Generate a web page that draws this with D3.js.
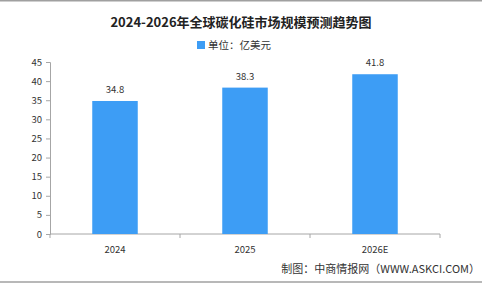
<!DOCTYPE html>
<html>
<head>
<meta charset="utf-8">
<script src="https://cdn.jsdelivr.net/npm/d3@7"></script>
<style>
  body { margin: 0; background: #fff; }
  svg { display: block; }
  text { font-family: "Noto Sans CJK SC", "DejaVu Sans", sans-serif; }
</style>
</head>
<body>
<div id="chart"></div>
<script>
const years = ["2024", "2025", "2026E"];
const values = [34.8, 38.3, 41.8];
const yTicks = [0, 5, 10, 15, 20, 25, 30, 35, 40, 45];

const width = 482, height = 284;
const margin = { top: 62, bottom: 50, left: 50, right: 42 };

const svg = d3.select("#chart").append("svg")
  .attr("width", width)
  .attr("height", height);

// frame lines top and bottom
svg.append("line").attr("x1", 0).attr("x2", width).attr("y1", 0.5).attr("y2", 0.5)
  .attr("stroke", "#a0a0a0").attr("stroke-width", 2);
svg.append("line").attr("x1", 0).attr("x2", width).attr("y1", 282).attr("y2", 282)
  .attr("stroke", "#a0a0a0").attr("stroke-width", 1.5);

const xScale = d3.scaleBand()
  .domain(years)
  .range([margin.left, width - margin.right])
  .paddingInner(0.65)
  .paddingOuter(0.325);

const yScale = d3.scaleLinear()
  .domain([0, 45])
  .range([height - margin.bottom, margin.top]);

// title
svg.append("text")
  .attr("x", 241).attr("y", 27)
  .attr("text-anchor", "middle")
  .attr("font-size", 13)
  .attr("font-weight", "bold")
  .attr("fill", "#222")
  .text("2024-2026年全球碳化硅市场规模预测趋势图");

// legend
svg.append("rect").attr("x", 197).attr("y", 41).attr("width", 8).attr("height", 8).attr("fill", "#3d9df5");
svg.append("text")
  .attr("x", 208).attr("y", 49)
  .attr("font-size", 10.5)
  .attr("fill", "#333")
  .text("单位：亿美元");

// y axis
const yAxis = d3.axisLeft(yScale).tickValues(yTicks).tickSize(4).tickPadding(4);
const gy = svg.append("g")
  .attr("class", "axis y-axis")
  .attr("transform", `translate(${margin.left},0)`)
  .call(yAxis);
gy.select(".domain").attr("stroke", "#a6a6a6");
gy.selectAll(".tick line").attr("stroke", "#a6a6a6");
gy.selectAll(".tick text").attr("font-size", 9.5).attr("fill", "#333")
  .attr("font-family", "DejaVu Sans, sans-serif");

// x axis with ticks at band boundaries
const gx = svg.append("g")
  .attr("class", "axis x-axis")
  .attr("transform", `translate(0,${yScale(0)})`);
gx.append("line")
  .attr("x1", margin.left).attr("x2", width - margin.right)
  .attr("stroke", "#a6a6a6");
const bounds = d3.range(years.length + 1).map(i => margin.left + i * (width - margin.left - margin.right) / years.length);
gx.selectAll(".xtick").data(bounds).join("line")
  .attr("class", "xtick")
  .attr("x1", d => d).attr("x2", d => d)
  .attr("y1", 0).attr("y2", 4)
  .attr("stroke", "#a6a6a6");
gx.selectAll(".xlabel").data(years).join("text")
  .attr("class", "xlabel")
  .attr("x", d => xScale(d) + xScale.bandwidth() / 2)
  .attr("y", 19)
  .attr("text-anchor", "middle")
  .attr("font-size", 9.5)
  .attr("fill", "#333")
  .attr("font-family", "DejaVu Sans, sans-serif")
  .text(d => d);

// bars
svg.selectAll(".bar").data(years).join("rect")
  .attr("class", "bar")
  .attr("x", d => xScale(d))
  .attr("width", xScale.bandwidth())
  .attr("y", (d, i) => yScale(values[i]))
  .attr("height", (d, i) => yScale(0) - yScale(values[i]))
  .attr("fill", "#3d9df5");

// value labels
svg.selectAll(".val").data(years).join("text")
  .attr("class", "val")
  .attr("x", d => xScale(d) + xScale.bandwidth() / 2)
  .attr("y", (d, i) => yScale(values[i]) - 8)
  .attr("text-anchor", "middle")
  .attr("font-size", 9.5)
  .attr("fill", "#333")
  .attr("font-family", "DejaVu Sans, sans-serif")
  .text((d, i) => values[i].toFixed(1));

// footer
svg.append("text")
  .attr("x", 480).attr("y", 273)
  .attr("text-anchor", "end")
  .attr("font-size", 11)
  .attr("fill", "#333")
  .text("制图：中商情报网（WWW.ASKCI.COM）");
</script>
</body>
</html>
